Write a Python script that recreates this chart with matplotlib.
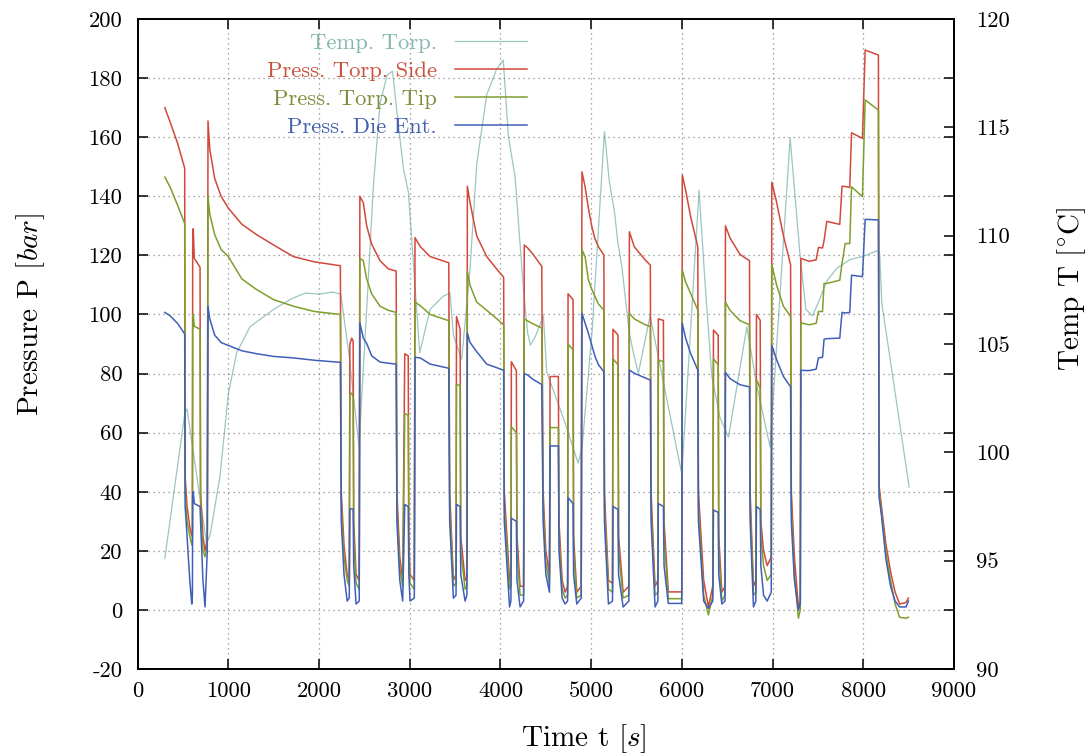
import numpy as np
import matplotlib
matplotlib.use("Agg")
import matplotlib.pyplot as plt

# pressure traces, shared time base (s)
t_press = [300, 360, 440, 519, 524, 545, 575, 597, 604, 607, 613, 625, 688, 694, 720, 743, 768,
           776, 795, 850, 920, 1000, 1150, 1313, 1500, 1717, 1950, 2235,
           2245, 2275, 2310, 2333, 2340, 2360, 2376, 2382, 2408, 2443,
           2450, 2488, 2525, 2580, 2672, 2764, 2850,
           2858, 2890, 2922, 2945, 2983, 2990, 3003, 3050,
           3058, 3115, 3225, 3430,
           3440, 3481, 3510, 3515, 3555, 3562, 3610, 3630,
           3635, 3665, 3738, 3848, 3958, 4035,
           4042, 4100, 4115, 4120, 4175, 4182, 4216, 4255,
           4262, 4300, 4360, 4455,
           4470, 4500, 4540, 4547, 4638, 4645, 4680, 4712, 4740, 4745, 4800, 4806, 4841, 4890,
           4898, 4933, 4969, 5007, 5043, 5080, 5140,
           5146, 5190, 5235, 5240, 5295, 5302, 5352, 5415,
           5421, 5475, 5597, 5652,
           5660, 5704, 5735, 5740, 5796, 5803, 5850, 5998,
           6004, 6041, 6096, 6175,
           6182, 6240, 6292, 6340, 6348, 6400, 6406, 6440, 6475,
           6480, 6530, 6641, 6745,
           6752, 6789, 6815, 6822, 6863, 6870, 6900, 6940, 6985,
           6991, 7045, 7119, 7198,
           7206, 7240, 7284, 7305,
           7311, 7400, 7480, 7505, 7550, 7567, 7597, 7740, 7765, 7800, 7850, 7870, 7990, 8020, 8166,
           8174, 8200, 8250, 8300, 8350, 8400, 8470, 8497]

p_side = [170, 165, 158, 149.5, 45, 35, 28, 25, 26, 122, 129, 119, 116, 40, 25, 20, 24,
          165.5, 156, 146, 140, 136, 130.5, 127, 123.5, 119.6, 117.8, 116.5,
          40, 22, 12, 10, 90, 92, 91, 30, 12, 10,
          140, 137.8, 130, 123.8, 118.2, 115.4, 114.7,
          40, 18, 10, 86.7, 86, 25, 12, 10,
          126, 123, 119.6, 117.5,
          40, 10, 12, 99.3, 95, 25, 10, 11,
          143.4, 137.8, 126.6, 119.6, 115.4, 112.6,
          40, 10, 11, 84, 81, 25, 8, 8,
          123.5, 122.5, 120.3, 116.3,
          40, 20, 12, 79, 79, 30, 10, 6, 8, 107, 105, 25, 6, 8,
          148.3, 143.2, 136, 129.7, 125.5, 122.9, 120.1,
          40, 10, 9, 95, 93, 25, 6, 8,
          128, 122.9, 118.4, 116.7,
          40, 8, 10, 98.5, 98, 30, 6.1, 6.1,
          147.2, 142.1, 133.1, 122.9,
          40, 10, 1, 8, 94.7, 93, 25, 6, 8,
          130, 125.9, 120.3, 118.2,
          40, 8, 10, 100, 98, 30, 20, 15, 18,
          144.8, 137.8, 126.6, 116.8,
          40, 18, 1, 3,
          119, 118, 118.5, 122.7, 122.5, 125, 131.5, 130.5, 143.4, 143.3, 143, 161.5, 159.6, 189.5, 187.8,
          42, 35, 22, 13, 6, 2, 2.5, 4]

p_tip = [146.5, 143, 137, 130.8, 40, 30, 25, 22, 24, 95, 100, 96, 95, 35, 20, 18, 22,
         140, 134, 127, 122, 119.6, 112, 108.4, 105, 102.8, 101, 100,
         35, 18, 10, 8, 73, 73.4, 72, 25, 9, 7,
         119, 118.2, 112, 107, 102.8, 101.4, 100.7,
         35, 14, 8, 66.4, 66, 20, 9, 7,
         104.2, 103, 100, 97.9,
         35, 8, 9, 76.2, 76, 20, 7, 8,
         114.7, 109.8, 104.2, 101.4, 98.6, 96.5,
         35, 7, 8, 62, 60, 20, 5, 5,
         98.5, 97.8, 96.8, 95.4,
         35, 16, 9, 61.7, 61.7, 25, 7, 4, 5, 90, 88, 20, 4, 5,
         122, 119.5, 111.7, 108.5, 106, 103.5, 101.5,
         35, 7, 6, 85, 83, 20, 4, 5,
         100.4, 98.5, 96.5, 95.9,
         35, 5, 6, 84.6, 84, 25, 3.8, 3.8,
         115, 111, 107.1, 101.5,
         35, 5, -1.7, 5, 85, 83, 20, 3, 5,
         104.2, 101.4, 97.9, 96.5,
         35, 5, 6, 78, 75, 25, 15, 10, 12,
         116.8, 109.8, 102.8, 99.3,
         35, 12, -2.8, 0,
         97.2, 96.5, 97, 101, 101, 110.5, 110.5, 111.6, 117.3, 124, 124, 143.2, 139.9, 172.6, 169.2,
         40, 33, 19, 10, 2, -2.5, -2.8, -2.5]

p_die = [100.7, 99.5, 97, 93.4, 35, 25, 10, 2, 5, 38, 40, 36, 35, 30, 10, 1, 20,
         102.8, 98.5, 93, 90.5, 89.5, 87.7, 86.7, 85.8, 85.3, 84.5, 83.8,
         30, 12, 3, 4, 34, 34.3, 34, 15, 2, 3,
         97.2, 92, 90.2, 86, 83.9, 83.5, 83.2,
         30, 10, 3, 35.7, 35, 12, 3, 4,
         85.5, 85.3, 83.2, 81.8,
         30, 4, 5, 35.7, 35, 12, 3, 5,
         93.7, 90.5, 87.4, 83.2, 82, 81.1,
         30, 1, 3, 31, 30, 10, 1, 3,
         80, 79.5, 78, 76.3,
         30, 12, 6, 55.5, 55.5, 20, 4, 2, 3, 38, 36, 12, 2, 4,
         100.4, 97, 93.6, 89.5, 85.7, 83, 80.6,
         30, 2, 3, 35, 34, 12, 1, 3,
         81.2, 80.1, 78.5, 77.8,
         30, 1, 3, 36, 35, 15, 2.2, 2.2,
         97, 92, 86.8, 81.2,
         30, 3, 0.5, 3, 33.8, 33, 12, 2, 3,
         80.4, 78.3, 76.2, 75.5,
         30, 1, 3, 35, 34, 15, 5, 3, 6,
         89.5, 84.6, 79, 75.5,
         30, 10, 0, 2,
         81.1, 81, 81.5, 85.3, 85.5, 91.6, 91.8, 92, 100.7, 100.5, 100.7, 113.3, 112.8, 132.2, 132,
         38, 32, 17, 8, 3, 1, 1, 3]

# torpedo temperature (right axis)
t_temp = [300, 520, 545, 760, 800, 908, 1000, 1092, 1240, 1500, 1700, 1850, 2000, 2150, 2240,
          2330, 2440, 2525, 2599, 2672, 2750, 2810, 2856, 2930, 2985, 3110, 3224, 3367, 3444,
          3481, 3573, 3665, 3738, 3848, 3958, 4031, 4087, 4161, 4252, 4300, 4330, 4380, 4473,
          4510, 4700, 4856, 4900, 5010, 5146, 5200, 5260, 5290, 5340, 5420, 5465, 5520, 5649,
          5999, 6189, 6260, 6330, 6420, 6513, 6716, 6825, 6972, 7193, 7300, 7366, 7440, 7512,
          7597, 7707, 7855, 8001, 8148, 8180, 8203, 8505]
temp_torp = [95.1, 101.8, 102.0, 95.8, 96.2, 98.9, 102.7, 104.6, 105.8, 106.6, 107.1, 107.35, 107.3, 107.4, 107.3,
             104.5, 100.3, 106.6, 112.3, 116.1, 117.4, 117.6, 115.8, 113.1, 112.0, 104.6, 106.6, 107.2, 107.35,
             105.4, 104.3, 108.5, 113.3, 116.5, 117.7, 118.1, 114.6, 112.7, 107.6, 105.5, 104.95, 105.3, 106.3,
             103.7, 101.5, 99.5, 100.25, 105.6, 114.8, 112.5, 111.0, 109.8, 108.5, 105.5, 104.6, 103.65, 106.3,
             99.0, 112.1, 107.5, 103.5, 101.6, 100.7, 105.8, 103.1, 100.25, 114.5, 109.2, 106.6, 106.3, 107.0,
             107.9, 108.5, 108.9, 109.05, 109.3, 109.2, 106.9, 98.4]

labels = ["Temp. Torp.", "Press. Torp. Side", "Press. Torp. Tip", "Press. Die Ent."]
line_colors = ["#9cc6bf", "#d2483a", "#7f9e2c", "#3f5fb8"]
text_colors = ["#86b8b0", "#c8523e", "#7c8f3c", "#4460b0"]

plt.rcParams["font.family"] = "cmr10"
plt.rcParams["mathtext.fontset"] = "cm"
plt.rcParams["axes.unicode_minus"] = False
fs = 16.3
fs_lab = 21

fig = plt.figure(figsize=(10.87, 7.55), dpi=100)
ax = fig.add_axes([0.1266, 0.1139, 0.7511, 0.8609])
ax2 = ax.twinx()

h_temp, = ax2.plot(t_temp, temp_torp, color=line_colors[0], lw=0.9)
h_side, = ax.plot(t_press, p_side, color=line_colors[1], lw=1.1)
h_tip, = ax.plot(t_press, p_tip, color=line_colors[2], lw=1.1)
h_die, = ax.plot(t_press, p_die, color=line_colors[3], lw=1.1)

ax.set_zorder(ax2.get_zorder() + 1)
ax.patch.set_visible(False)

ax.set_xlim(0, 9000)
ax.set_ylim(-20, 200)
ax2.set_ylim(90, 120)
xt = list(range(0, 9001, 1000))
yt = list(range(-20, 201, 20))
tt = list(range(90, 121, 5))
ax.set_xticks(xt, [str(v) for v in xt])
ax.set_yticks(yt, [str(v) for v in yt])
ax2.set_yticks(tt, [str(v) for v in tt])

ax.grid(True, color="#8a8a8a", linestyle=(0, (1, 3)), linewidth=0.9)
ax.tick_params(direction="in", length=7, width=1.1, top=True, right=True, labelsize=fs)
ax.tick_params(axis="y", pad=11)
ax.tick_params(axis="x", pad=9)
ax2.tick_params(direction="in", length=7, width=1.1, labelsize=fs, pad=16)
for a in (ax, ax2):
    for s in a.spines.values():
        s.set_linewidth(1.3)

ax.set_xlabel(r"Time t $[s]$", fontsize=fs_lab)
ax.set_ylabel(r"Pressure P $[bar]$", fontsize=fs_lab)
ax2.set_ylabel(r"Temp T $[^{\circ}\mathrm{C}]$", fontsize=fs_lab)
ax.xaxis.set_label_coords(0.547, -0.082)
ax.yaxis.set_label_coords(-0.111, 0.545)
ax2.yaxis.set_label_coords(1.124, 0.585)

leg = ax.legend([h_temp, h_side, h_tip, h_die], labels, loc="upper right",
                bbox_to_anchor=(0.477, 0.979), markerfirst=False, frameon=False,
                handlelength=3.2, handletextpad=0.8, labelspacing=0.36,
                borderaxespad=0, borderpad=0, fontsize=fs)
for txt, c in zip(leg.get_texts(), text_colors):
    txt.set_color(c)

fig.savefig("out.png", dpi=100)
